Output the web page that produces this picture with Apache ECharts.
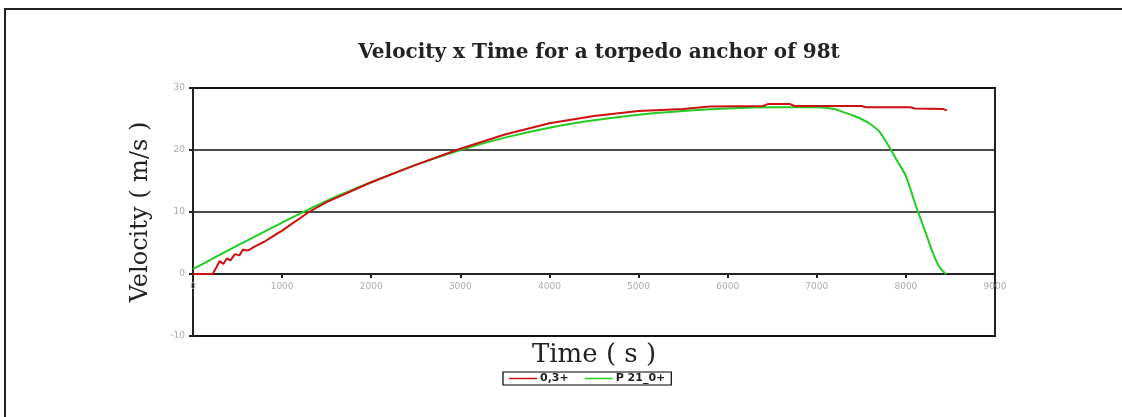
<!DOCTYPE html>
<html>
<head>
<meta charset="utf-8">
<script src="https://cdn.jsdelivr.net/npm/echarts@6/dist/echarts.min.js"></script>
<style>html,body{margin:0;padding:0;background:#fff}#c{width:1122px;height:417px}</style>
</head>
<body>
<div id="c"></div>
<script>
const xTicks = [0, 1000, 2000, 3000, 4000, 5000, 6000, 7000, 8000, 9000];
const yTicks = [-10, 0, 10, 20, 30];

const redTime = [0, 220, 260, 300, 340, 380, 420, 470, 520, 560, 620, 700, 800, 900, 1000, 1100, 1200, 1300, 1500, 2000, 2500, 3000, 3500, 4000, 4500, 5000, 5500, 5800, 6400, 6450, 6700, 6750, 7500, 7550, 8050, 8100, 8420, 8460];
const redVel  = [0, 0, 1.0, 2.1, 1.6, 2.5, 2.2, 3.2, 3.0, 3.9, 3.8, 4.5, 5.2, 6.1, 7.0, 8.0, 9.0, 10.0, 11.6, 14.8, 17.6, 20.2, 22.5, 24.3, 25.5, 26.3, 26.6, 27.0, 27.1, 27.4, 27.4, 27.1, 27.1, 26.9, 26.9, 26.7, 26.6, 26.4];

const greenTime = [0, 500, 1000, 1500, 2000, 2500, 3000, 3500, 4000, 4500, 5000, 5500, 6000, 6500, 7000, 7200, 7300, 7400, 7500, 7600, 7700, 7800, 7900, 8000, 8100, 8150, 8200, 8250, 8300, 8350, 8400, 8450];
const greenVel  = [0.8, 4.6, 8.3, 11.8, 14.8, 17.6, 20.0, 22.0, 23.6, 24.8, 25.7, 26.3, 26.7, 26.9, 26.9, 26.6, 26.1, 25.6, 25.0, 24.2, 23.0, 20.8, 18.3, 15.8, 11.5, 9.5, 7.5, 5.5, 3.5, 1.8, 0.7, 0];

const redName = '0,3+';
const greenName = 'P 21_0+';

const pair = (xs, ys) => xs.map((x, i) => [x, ys[i]]);

const chart = echarts.init(document.getElementById('c'), null, {renderer: 'canvas'});
chart.setOption({
  backgroundColor: '#fff',
  animation: false,
  title: {
    text: 'Velocity x Time for a torpedo anchor of 98t',
    left: 594, top: 38, textAlign: 'center',
    textStyle: {fontFamily: 'DejaVu Serif', fontWeight: 'bold', fontSize: 20, color: '#222'}
  },
  graphic: [{
    type: 'rect', shape: {x: 5, y: 9, width: 1130, height: 420},
    style: {fill: 'none', stroke: '#222', lineWidth: 2}, z: -1
  }],
  legend: {
    left: 503, top: 372,
    data: [redName, greenName],
    icon: 'rect', itemWidth: 28, itemHeight: 1.5, itemGap: 16,
    padding: [1, 6], borderColor: '#000', borderWidth: 1.2,
    textStyle: {fontFamily: 'DejaVu Sans', fontSize: 11, fontWeight: 'bold', color: '#222', padding: [0, 0, 0, -2]}
  },
  grid: {left: 193, right: 127, top: 88, bottom: 81, show: true, borderColor: '#222', borderWidth: 2, backgroundColor: 'transparent', outerBoundsMode: 'none', containLabel: false},
  xAxis: {
    type: 'value', min: xTicks[0], max: xTicks[xTicks.length - 1], interval: 1000,
    position: 'bottom', offset: -62,
    name: 'Time ( s )', nameLocation: 'middle', nameGap: 68,
    nameTextStyle: {fontFamily: 'DejaVu Serif', fontSize: 26, color: '#222'},
    axisLine: {show: true, onZero: false, lineStyle: {color: '#222', width: 2}},
    axisTick: {show: true, length: 4, lineStyle: {color: '#222', width: 2}},
    axisLabel: {fontFamily: 'DejaVu Sans', fontSize: 9, color: '#aaa', margin: 8, formatter: v => String(v)},
    splitLine: {show: false}
  },
  yAxis: {
    type: 'value', min: yTicks[0], max: yTicks[yTicks.length - 1], interval: 10,
    name: 'Velocity ( m/s )', nameLocation: 'middle', nameGap: 40, nameRotate: 90,
    nameTextStyle: {fontFamily: 'DejaVu Serif', fontSize: 24, color: '#222'},
    axisLine: {show: true, lineStyle: {color: '#222', width: 2}},
    axisTick: {show: true, length: 4, lineStyle: {color: '#222', width: 2}},
    axisLabel: {fontFamily: 'DejaVu Sans', fontSize: 9, color: '#aaa', margin: 8, formatter: v => String(v)},
    splitLine: {show: true, lineStyle: {color: '#111', width: 1.5}}
  },
  series: [{
    name: redName, type: 'line', data: pair(redTime, redVel), showSymbol: false, symbol: 'none',
    lineStyle: {color: '#cc1010', width: 2}, itemStyle: {color: '#cc1010'}, z: 3
  }, {
    name: greenName, type: 'line', data: pair(greenTime, greenVel), showSymbol: false, symbol: 'none', smooth: 0.3,
    lineStyle: {color: '#22cc22', width: 2}, itemStyle: {color: '#22cc22'}, z: 2
  }]
});
</script>
</body>
</html>
